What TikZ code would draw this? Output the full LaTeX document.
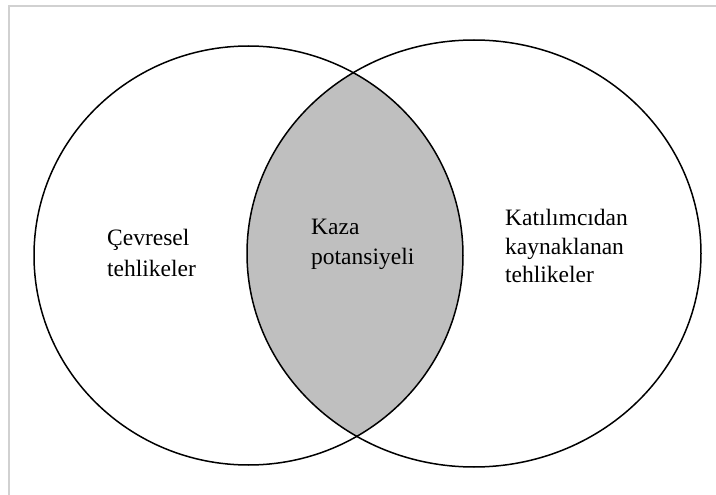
\documentclass[tikz,border=0pt]{standalone}
\usepackage{fontspec}
\setmainfont{Liberation Serif}
\begin{document}
\begin{tikzpicture}[x=1pt,y=-1pt]
\useasboundingbox (0,0) rectangle (716,495);
\draw[line width=2pt, black!18] (9,495) -- (9,6) -- (716,6);
\begin{scope}
\clip (248.5,255.5) ellipse [x radius=214.5, y radius=209.5];
\fill[black!25] (474,253.5) ellipse [x radius=227, y radius=213.5];
\end{scope}
\draw[line width=1.5pt] (248.5,255.5) ellipse [x radius=214.5, y radius=209.5];
\draw[line width=1.5pt] (474,253.5) ellipse [x radius=227, y radius=213.5];
\node[anchor=north west, inner sep=0, align=left, font=\fontsize{23.5}{31}\selectfont] (cev) at (107,229) {Çevresel\\tehlikeler};
\node[anchor=north west, inner sep=0, align=left, font=\fontsize{23.5}{30}\selectfont] (kaza) at (311,219) {Kaza\\potansiyeli};
\node[anchor=north west, inner sep=0, align=left, font=\fontsize{23.5}{28.5}\selectfont] (kat) at (505,209) {Katılımcıdan\\kaynaklanan\\tehlikeler};
\end{tikzpicture}
\end{document}
